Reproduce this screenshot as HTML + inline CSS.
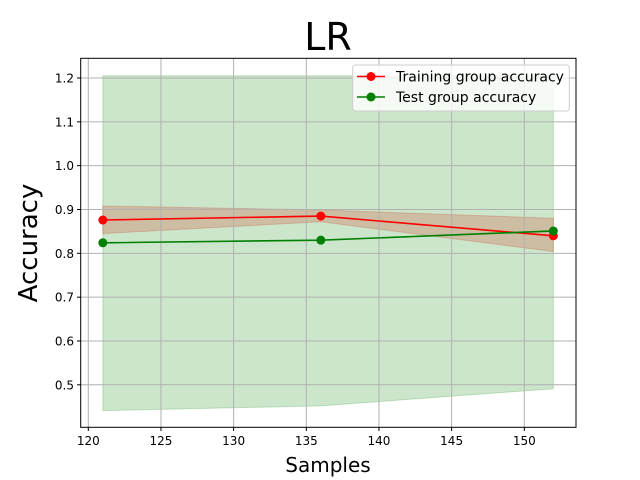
<!DOCTYPE html>
<html><head><meta charset="utf-8"><style>
body{margin:0;background:#fff;}
svg{display:block;font-family:"DejaVu Sans","Liberation Sans",sans-serif;}
</style></head><body>
<svg id="chart" width="640" height="480" viewBox="0 0 640 480">
<rect width="640" height="480" fill="#fff"/>
<text x="328" y="50" font-size="38" text-anchor="middle">LR</text>
<g id="bands"></g>
<g id="grid"></g>
<g id="series"></g>
<rect x="80.7" y="58.3" width="495.3" height="369" fill="none" stroke="#000" stroke-width="1"/>
<g id="ticks"></g>
<text x="328" y="472" font-size="20" text-anchor="middle">Samples</text>
<text transform="translate(37,243) rotate(-90)" font-size="26" text-anchor="middle">Accuracy</text>
<g>
<rect x="352.7" y="65" width="216.6" height="46" rx="3" fill="#fff" fill-opacity="0.8" stroke="#ccc"/>
<g>
<line x1="357" y1="76.5" x2="385" y2="76.5" stroke="red" stroke-width="1.5"/><circle cx="371" cy="76.5" r="4.5" fill="red"/>
<text x="396" y="81.5" font-size="14">Training group accuracy</text></g>
<g>
<line x1="357" y1="97" x2="385" y2="97" stroke="green" stroke-width="1.5"/><circle cx="371" cy="97" r="4.5" fill="green"/>
<text x="396" y="102" font-size="14">Test group accuracy</text></g>
</g>
</svg>
<script>
const samples=[121,136,152];
const trainMean=[0.876,0.885,0.840];
const trainUpper=[0.908,0.899,0.880];
const trainLower=[0.845,0.872,0.804];
const testMean=[0.824,0.830,0.851];
const testUpper=[1.205,1.205,1.205];
const testLower=[0.441,0.452,0.491];
const xTicks=[120,125,130,135,140,145,150];
const yTicks=[0.5,0.6,0.7,0.8,0.9,1.0,1.1,1.2];
const NS="http://www.w3.org/2000/svg";
function X(v){return 88.3+(v-120)*14.533;}
function Y(v){return 78+(1.2-v)*438.3;}
function mk(tag,attrs,parent){const e=document.createElementNS(NS,tag);for(const k in attrs)e.setAttribute(k,attrs[k]);parent.appendChild(e);return e;}
const grid=document.getElementById('grid'),ticks=document.getElementById('ticks'),bands=document.getElementById('bands'),series=document.getElementById('series');
xTicks.forEach(t=>{const x=X(t);
 const g=mk('line',{x1:x,x2:x,y1:58.3,y2:427.3,stroke:'#b0b0b0','stroke-width':1},grid);
 
 
 mk('line',{x1:x,x2:x,y1:427.3,y2:431,stroke:'#000'},ticks);
 const l=mk('text',{x:x,y:445,'font-size':12,'text-anchor':'middle'},ticks);l.textContent=t;
 
 });
yTicks.forEach(t=>{const y=Y(t);
 const g=mk('line',{x1:80.7,x2:576,y1:y,y2:y,stroke:'#b0b0b0','stroke-width':1},grid);
 
 
 mk('line',{x1:77,x2:80.7,y1:y,y2:y,stroke:'#000'},ticks);
 const l=mk('text',{x:74,y:y+4.5,'font-size':12,'text-anchor':'end'},ticks);l.textContent=t.toFixed(1);
 
 });
function band(up,lo,color,name){let pts=samples.map((s,i)=>X(s)+','+Y(up[i]));
 for(let i=samples.length-1;i>=0;i--)pts.push(X(samples[i])+','+Y(lo[i]));
 const p=mk('polygon',{points:pts.join(' '),fill:color,'fill-opacity':0.2,stroke:color,'stroke-opacity':0.2},bands);
 
 }
band(trainUpper,trainLower,'red','training-band');
band(testUpper,testLower,'green','test-band');
function line(vals,color,name){const pl=mk('polyline',{points:samples.map((s,i)=>X(s)+','+Y(vals[i])).join(' '),fill:'none',stroke:color,'stroke-width':1.6},series);
 
 
 samples.forEach((s,i)=>{const c=mk('circle',{cx:X(s),cy:Y(vals[i]),r:4.5,fill:color},series);
 
 });}
line(trainMean,'red','training');
line(testMean,'green','test');
</script>
</body></html>
